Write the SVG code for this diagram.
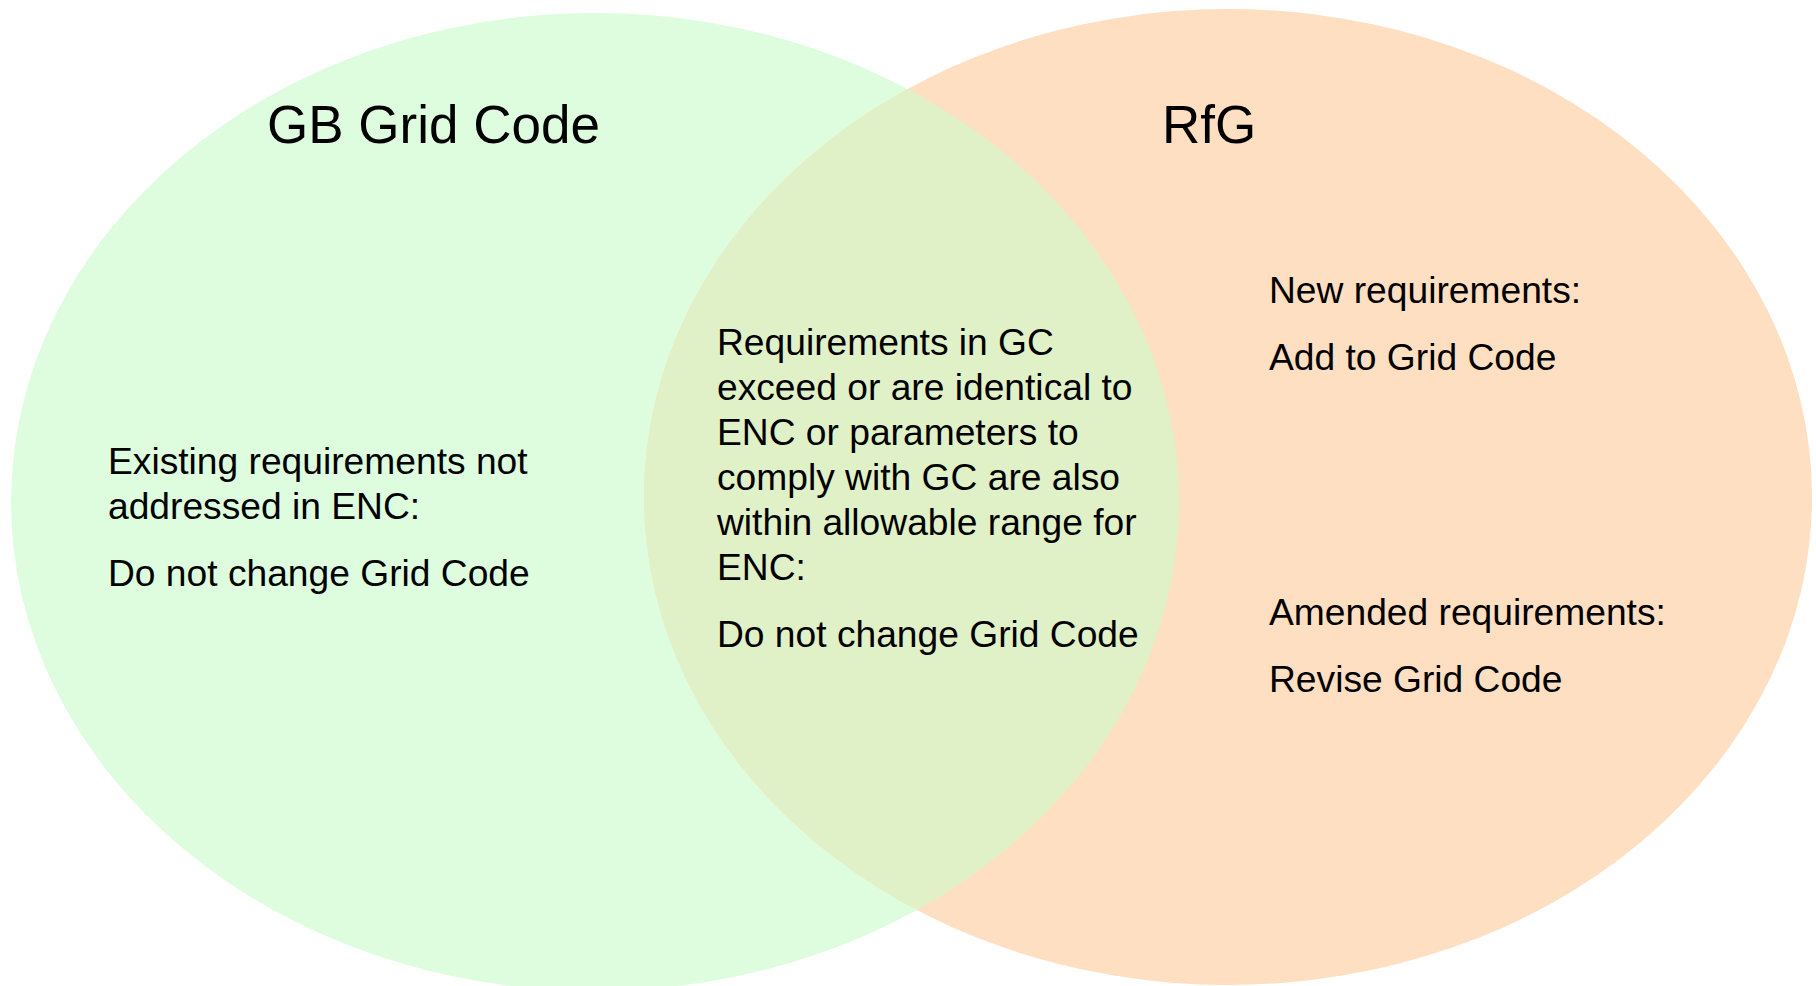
<svg xmlns="http://www.w3.org/2000/svg" width="1816" height="986" viewBox="0 0 1816 986">
<style>
text{font-family:"Liberation Sans",Arial,sans-serif;fill:#000}
.t{font-size:53px}
.b{font-size:37.2px}
</style>
<defs>
<clipPath id="clipR"><ellipse cx="1228" cy="497" rx="584" ry="488"/></clipPath>
</defs>
<rect width="1816" height="986" fill="#fff"/>
<g id="gb">
<ellipse cx="595" cy="502" rx="584" ry="489" fill="#DEFDDE"/>
</g>
<g id="rfg">
<ellipse cx="1228" cy="497" rx="584" ry="488" fill="#FEDFC1"/>
</g>
<g id="overlap">
<ellipse cx="595" cy="502" rx="584" ry="489" fill="#E0F1C8" clip-path="url(#clipR)"/>
</g>
<g id="connectors"/>
<g id="labels">
<text class="t" x="267" y="143">GB Grid Code</text>
<text class="t" x="1162" y="143">RfG</text>
<text class="b" x="108" y="474">Existing requirements not</text>
<text class="b" x="108" y="519">addressed in ENC:</text>
<text class="b" x="108" y="586">Do not change Grid Code</text>
<text class="b" x="717" y="355">Requirements in GC</text>
<text class="b" x="717" y="400">exceed or are identical to</text>
<text class="b" x="717" y="445">ENC or parameters to</text>
<text class="b" x="717" y="490">comply with GC are also</text>
<text class="b" x="717" y="535">within allowable range for</text>
<text class="b" x="717" y="580">ENC:</text>
<text class="b" x="717" y="647">Do not change Grid Code</text>
<text class="b" x="1269" y="303">New requirements:</text>
<text class="b" x="1269" y="370">Add to Grid Code</text>
<text class="b" x="1269" y="625">Amended requirements:</text>
<text class="b" x="1269" y="692">Revise Grid Code</text>
</g>
</svg>
